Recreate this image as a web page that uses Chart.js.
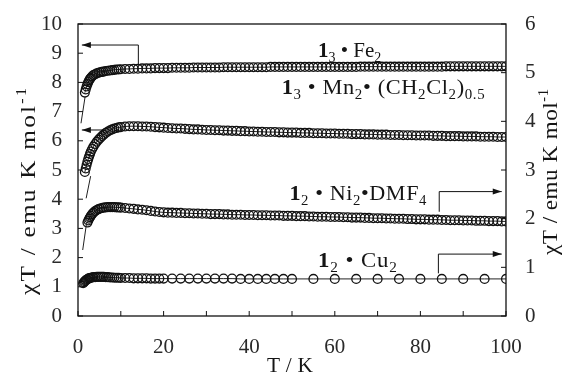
<!DOCTYPE html>
<html><head><meta charset="utf-8">
<script src="https://cdn.jsdelivr.net/npm/chart.js@4/dist/chart.umd.min.js"></script>
<style>html,body{margin:0;padding:0;background:#fff}#wrap{width:568px;height:374px}</style>
</head><body><div id="wrap"><canvas id="c" width="568" height="374"></canvas></div>
<script>
// ---------- data (T in K, chiT in emu K mol^-1, left axis) ----------
const tLow = [1.6,1.8,2.0,2.2,2.4,2.6,2.8,3.0,3.3,3.6,4.0,4.4,4.8,5.2,5.6,6.0,6.5,7,7.5,8,8.5,9,9.5,10];
const tHigh = [11,12,13,14,15,16,17,18,19,20,21,22,23,24,25,26,27,28,29,30,31,32,33,34,35,36,37,38,39,40,
  41,42,43,44,45,46,47,48,49,50,51,52,53,54,55,56,57,58,59,60,61,62,63,64,65,66,67,68,69,70,
  71,72,73,74,75,76,77,78,79,80,81,82,83,84,85,86,87,88,89,90,91,92,93,94,95,96,97,98,99,100];
const tDense = tLow.concat(tHigh);
const fe = [7.65,7.76,7.86,7.94,8.01,8.07,8.12,8.16,8.21,8.25,8.28,8.31,8.33,8.35,8.36,8.37,8.39,8.40,8.41,8.42,8.43,8.44,8.44,8.45,
  8.46,8.46,8.47,8.47,8.48,8.48,8.48,8.49,8.49,8.49,
  8.49,8.50,8.50,8.50,8.50,8.50,8.51,8.51,8.51,8.51,
  8.51,8.51,8.51,8.52,8.52,8.52,8.52,8.52,8.52,8.52,
  8.52,8.52,8.52,8.52,8.53,8.53,8.53,8.53,8.53,8.53,
  8.53,8.53,8.53,8.53,8.53,8.53,8.53,8.53,8.53,8.53,
  8.53,8.53,8.53,8.53,8.53,8.54,8.54,8.54,8.54,8.54,
  8.54,8.54,8.54,8.54,8.54,8.54,8.54,8.54,8.54,8.54,
  8.54,8.54,8.54,8.54,8.54,8.55,8.55,8.55,8.55,8.55,
  8.55,8.55,8.55,8.55,8.55,8.55,8.55,8.55,8.55,8.55];
const mn = [4.93,5.05,5.17,5.28,5.38,5.47,5.55,5.63,5.72,5.80,5.89,5.97,6.04,6.10,6.16,6.21,6.27,6.32,6.36,6.39,6.42,6.44,6.46,6.47,
  6.49,6.50,6.50,6.50,6.49,6.49,6.48,6.47,6.46,6.45,
  6.44,6.43,6.42,6.42,6.41,6.40,6.39,6.39,6.38,6.37,
  6.37,6.36,6.36,6.35,6.35,6.34,6.34,6.33,6.33,6.32,
  6.32,6.31,6.31,6.30,6.30,6.30,6.29,6.29,6.28,6.28,
  6.28,6.27,6.27,6.27,6.26,6.26,6.26,6.25,6.25,6.25,
  6.24,6.24,6.24,6.23,6.23,6.23,6.22,6.22,6.22,6.21,
  6.21,6.21,6.20,6.20,6.20,6.19,6.19,6.19,6.18,6.18,
  6.18,6.18,6.17,6.17,6.17,6.16,6.16,6.16,6.16,6.15,
  6.15,6.15,6.15,6.14,6.14,6.14,6.14,6.13,6.13,6.13];
const tNiLow = [2.2,2.4,2.6,2.8,3.0,3.3,3.6,4.0,4.4,4.8,5.2,5.6,6.0,6.5,7,7.5,8,8.5,9,9.5,10];
const tNi = tNiLow.concat(tHigh);
const ni = [3.20,3.27,3.33,3.38,3.43,3.49,3.54,3.59,3.63,3.66,3.68,3.70,3.71,3.72,3.73,3.73,3.73,3.73,3.72,3.72,3.71,
  3.70,3.68,3.67,3.65,3.64,3.62,3.60,3.58,3.56,3.55,
  3.54,3.54,3.53,3.53,3.52,3.52,3.51,3.51,3.50,3.50,
  3.49,3.49,3.49,3.48,3.48,3.47,3.47,3.47,3.46,3.46,
  3.46,3.45,3.45,3.45,3.44,3.44,3.44,3.43,3.43,3.43,
  3.42,3.42,3.42,3.41,3.41,3.40,3.40,3.40,3.39,3.39,
  3.39,3.38,3.38,3.37,3.37,3.37,3.36,3.36,3.35,3.35,
  3.35,3.34,3.34,3.33,3.33,3.33,3.32,3.32,3.31,3.31,
  3.31,3.30,3.30,3.30,3.29,3.29,3.28,3.28,3.28,3.27,
  3.27,3.27,3.26,3.26,3.26,3.25,3.25,3.25,3.24,3.24];
const tCu = [1.2,1.4,1.6,1.8,2.0,2.2,2.4,2.6,2.8,3.0,3.3,3.6,4.0,4.4,4.8,5.2,5.6,6.0,6.5,7,7.5,8,8.5,9,9.5,10,
  11,12,13,14,15,16,17,18,19,20,
  22,24,26,28,30,32,34,36,38,40,42,44,46,48,50,
  55,60,65,70,75,80,85,90,95,100];
const cu = [1.12,1.16,1.19,1.22,1.24,1.26,1.28,1.29,1.30,1.31,1.32,1.33,1.33,1.34,1.34,1.34,1.34,1.34,1.33,1.33,1.32,1.32,1.31,1.31,1.31,1.30,
  1.30,1.30,1.29,1.29,1.29,1.29,1.28,1.28,1.28,1.28,
  1.28,1.28,1.28,1.28,1.28,1.28,1.28,1.28,1.27,1.27,1.27,1.27,1.27,1.27,1.27,
  1.27,1.27,1.27,1.27,1.27,1.27,1.27,1.27,1.27,1.27];
// low-temperature fit lines
const feFitT = [1.65, 0.7], feFitV = [7.50, 6.60];
const mnFitT = [2.95, 1.9], mnFitV = [4.79, 4.03];
const niFitT = [2.0, 1.1],  niFitV = [3.18, 2.26];
// tick labels
const xTickLabels = ['0','20','40','60','80','100'];
const yLeftTickLabels = ['0','1','2','3','4','5','6','7','8','9','10'];
const yRightTickLabels = ['0','1','2','3','4','5','6'];
const axisTitle = 'χT / emu K mol';

// ---------- helpers ----------
const FONT = '"Liberation Serif", serif';
const pts = (xs, ys) => xs.map((x, i) => ({x: x, y: ys[i]}));
function segFont(s, size){ const sz = (s.sub||s.sup) ? Math.round(size*0.65) : size; return (s.b?'bold ':'') + sz + 'px ' + FONT; }
function natWidth(ctx, segs, size){ let w=0, n=0; for(const s of segs){ ctx.font=segFont(s,size); for(const ch of s.t){ w+=ctx.measureText(ch).width; n++; } } return {w, n}; }
function drawRich(ctx, segs, size, target){
  const m = natWidth(ctx, segs, size);
  let sc = 1, ls = 0;
  if (target && target > m.w){ sc = Math.min(1.15, Math.sqrt(target / m.w)); ls = (target / sc - m.w) / Math.max(1, m.n - 1); }
  const total = target ? target / sc : m.w;
  ctx.scale(sc, 1);
  let cx = -total/2;
  ctx.textBaseline='alphabetic'; ctx.textAlign='left';
  for(const s of segs){
    ctx.font=segFont(s,size);
    const dy = s.sub? size*0.25 : s.sup? -size*0.42 : 0;
    for(const ch of s.t){ ctx.fillText(ch, cx, dy); cx += ctx.measureText(ch).width + ls; }
  }
}
const labels = [
  {segs:[{t:'1',b:1},{t:'3',sub:1},{t:' \u2022 Fe'},{t:'2',sub:1}], x:63.3, y:8.87, w:62},
  {segs:[{t:'1',b:1},{t:'3',sub:1},{t:' \u2022 Mn'},{t:'2',sub:1},{t:'\u2022 (CH'},{t:'2',sub:1},{t:'Cl'},{t:'2',sub:1},{t:')'},{t:'0.5',sub:1}], x:71.3, y:7.60, w:203},
  {segs:[{t:'1',b:1},{t:'2',sub:1},{t:' \u2022 Ni'},{t:'2',sub:1},{t:'\u2022DMF'},{t:'4',sub:1}], x:65.4, y:3.97, w:137},
  {segs:[{t:'1',b:1},{t:'2',sub:1},{t:' \u2022 Cu'},{t:'2',sub:1}], x:65.3, y:1.68, w:79}
];
const arrows = [
  [[14.1,8.60],[14.1,9.28],[0.9,9.28]],
  [[5.8,6.37],[0.9,6.37]],
  [[84.4,3.57],[84.4,4.26],[99.0,4.26]],
  [[84.2,1.46],[84.2,2.12],[99.0,2.12]]
];

const decor = {
  id: 'decor',
  afterDatasetsDraw(chart){
    const ctx = chart.ctx, a = chart.chartArea;
    const xs = chart.scales.x, ys = chart.scales.y, y2 = chart.scales.y2;
    ctx.save();
    ctx.strokeStyle = '#111'; ctx.fillStyle = '#111'; ctx.lineWidth = 1.3;
    ctx.strokeRect(a.left, a.top, a.right - a.left, a.bottom - a.top);
    ctx.lineWidth = 1;
    ctx.beginPath();
    for (const t of xs.ticks){ const p = xs.getPixelForValue(t.value); ctx.moveTo(p, a.bottom); ctx.lineTo(p, a.bottom - 5); }
    for (const t of ys.ticks){ const p = ys.getPixelForValue(t.value); ctx.moveTo(a.left, p); ctx.lineTo(a.left + 5, p); }
    for (const t of y2.ticks){ const p = y2.getPixelForValue(t.value); ctx.moveTo(a.right, p); ctx.lineTo(a.right - 5, p); }
    ctx.stroke();
    // arrows
    for (const arr of arrows){
      const P = arr.map(q => [xs.getPixelForValue(q[0]), ys.getPixelForValue(q[1])]);
      ctx.beginPath(); ctx.moveTo(P[0][0], P[0][1]);
      for (let i = 1; i < P.length; i++) ctx.lineTo(P[i][0], P[i][1]);
      ctx.stroke();
      const e = P[P.length-1], s = P[P.length-2];
      const ang = Math.atan2(e[1]-s[1], e[0]-s[0]);
      ctx.beginPath();
      ctx.moveTo(e[0], e[1]);
      ctx.lineTo(e[0] - 9*Math.cos(ang) + 3*Math.sin(ang), e[1] - 9*Math.sin(ang) - 3*Math.cos(ang));
      ctx.lineTo(e[0] - 9*Math.cos(ang) - 3*Math.sin(ang), e[1] - 9*Math.sin(ang) + 3*Math.cos(ang));
      ctx.closePath(); ctx.fill();
    }
    // compound labels
    ctx.fillStyle = '#151515';
    for (const L of labels){
      ctx.save();
      ctx.translate(xs.getPixelForValue(L.x), ys.getPixelForValue(L.y));
      drawRich(ctx, L.segs, 21, L.w);
      ctx.restore();
    }
    // axis titles
    const tseg = [{t: axisTitle}, {t:'-1', sup:1}];
    ctx.save(); ctx.translate(35, 191.5); ctx.rotate(-Math.PI/2); drawRich(ctx, tseg, 22, 207); ctx.restore();
    ctx.save(); ctx.translate(557, 172); ctx.rotate(-Math.PI/2); drawRich(ctx, tseg, 22, 166); ctx.restore();
    ctx.save(); ctx.translate(290, 372); drawRich(ctx, [{t:'T / K'}], 21, 46); ctx.restore();
    ctx.restore();
  }
};

const ptStyle = {pointRadius: 4.4, pointBorderWidth: 1.3, pointBorderColor: '#111', pointBackgroundColor: 'rgba(0,0,0,0)', borderColor: '#222', borderWidth: 1, showLine: true, pointHoverRadius: 4.4};
const fitStyle = {pointRadius: 0, borderColor: '#222', borderWidth: 1, showLine: true};
const tickFont = {family: 'Liberation Serif', size: 21};

new Chart(document.getElementById('c'), {
  type: 'scatter',
  data: { datasets: [
    Object.assign({label:'Fe fit', data: pts(feFitT, feFitV)}, fitStyle),
    Object.assign({label:'Mn fit', data: pts(mnFitT, mnFitV)}, fitStyle),
    Object.assign({label:'Ni fit', data: pts(niFitT, niFitV)}, fitStyle),
    Object.assign({label:'1_3 Fe_2', data: pts(tDense, fe)}, ptStyle),
    Object.assign({label:'1_3 Mn_2 (CH2Cl2)0.5', data: pts(tDense, mn)}, ptStyle),
    Object.assign({label:'1_2 Ni_2 DMF_4', data: pts(tNi, ni)}, ptStyle),
    Object.assign({label:'1_2 Cu_2', data: pts(tCu, cu)}, ptStyle)
  ]},
  options: {
    responsive: false, animation: false, devicePixelRatio: 1, events: [],
    layout: {padding: {top: 24, left: 0, right: 0, bottom: 0}},
    plugins: {legend: {display: false}, tooltip: {enabled: false}},
    scales: {
      x: {type: 'linear', position: 'bottom', min: 0, max: 100,
        grid: {display: false}, border: {display: false},
        ticks: {stepSize: 10, autoSkip: false, maxRotation: 0, padding: 11, color: '#2a2a2a', font: tickFont,
          callback: v => (v % 20 === 0 ? xTickLabels[v/20] : '')},
        afterFit: s => { s.height = 58; }},
      y: {type: 'linear', position: 'left', min: 0, max: 10,
        grid: {display: false}, border: {display: false},
        ticks: {stepSize: 1, autoSkip: false, padding: 8, color: '#2a2a2a', font: tickFont,
          callback: v => yLeftTickLabels[v]},
        afterFit: s => { s.width = 78; }},
      y2: {type: 'linear', position: 'right', min: 0, max: 6,
        grid: {display: false}, border: {display: false},
        ticks: {stepSize: 1, autoSkip: false, padding: 11, color: '#2a2a2a', font: tickFont,
          callback: v => yRightTickLabels[v]},
        afterFit: s => { s.width = 62; }}
    }
  },
  plugins: [decor]
});
</script></body></html>
